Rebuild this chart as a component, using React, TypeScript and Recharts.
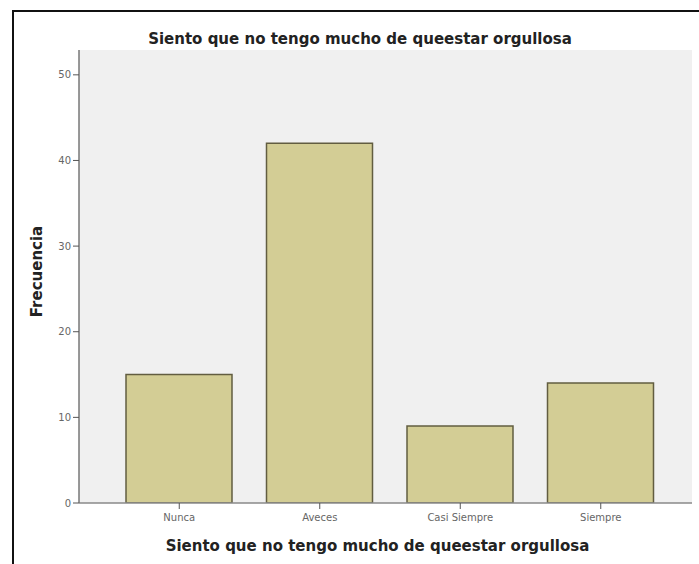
import { BarChart, Bar, XAxis, YAxis, CartesianGrid } from 'recharts'

const categories = ['Nunca', 'Aveces', 'Casi Siempre', 'Siempre']
const frecuencias = [15, 42, 9, 14]
const yTicks = [0, 10, 20, 30, 40, 50]
const title = 'Siento que no tengo mucho de queestar orgullosa'

const data = categories.map((name, i) => ({ name, value: frecuencias[i] }))

const font = '"DejaVu Sans", Verdana, sans-serif'

export default function App() {
  return (
    <div style={{ position: 'relative', width: 699, height: 564, background: '#fff', overflow: 'hidden' }}>
      <style>{`body{margin:0}`}</style>
      {/* outer frame, only top and left edges are in view */}
      <div
        style={{
          position: 'absolute',
          left: 12,
          top: 10,
          right: -10,
          bottom: -10,
          borderTop: '2px solid #111',
          borderLeft: '2px solid #111',
        }}
      />
      <div
        style={{
          position: 'absolute',
          left: 60,
          width: 600,
          top: 31,
          textAlign: 'center',
          fontFamily: font,
          fontWeight: 'bold',
          fontSize: 15,
          lineHeight: '17px',
          color: '#222',
        }}
      >
        {title}
      </div>
      <BarChart
        width={699}
        height={564}
        data={data}
        margin={{ top: 50, right: 7, bottom: 0, left: 0 }}
        style={{ position: 'absolute', left: 0, top: 0 }}
      >
        <CartesianGrid fill="#f0f0f0" horizontal={false} vertical={false} />
        <XAxis
          xAxisId="top"
          orientation="top"
          dataKey="name"
          tick={false}
          tickLine={false}
          height={0}
          axisLine={{ stroke: '#8a8a8a', strokeWidth: 1.5 }}
        />
        <XAxis
          dataKey="name"
          padding={{ left: 30, right: 21 }}
          tickSize={6}
          tickMargin={5}
          tickLine={{ stroke: '#555' }}
          axisLine={{ stroke: '#8a8a8a', strokeWidth: 1.5 }}
          tick={{ fontSize: 10, fill: '#666', fontFamily: font }}
          height={61}
          label={{
            value: title,
            position: 'insideBottom',
            offset: 13,
            dx: -8,
            style: { fontSize: 15, fontWeight: 'bold', fill: '#222', fontFamily: font },
          }}
        />
        <YAxis
          width={79}
          domain={[0, 52.9]}
          ticks={yTicks}
          allowDataOverflow
          tickSize={6}
          tickMargin={2}
          tickLine={{ stroke: '#555' }}
          axisLine={{ stroke: '#777', strokeWidth: 1.5 }}
          tick={{ fontSize: 10, fill: '#666', fontFamily: font }}
          label={{
            value: 'Frecuencia',
            angle: -90,
            position: 'insideLeft',
            offset: 37,
            dy: -5,
            style: { textAnchor: 'middle', fontSize: 15, fontWeight: 'bold', fill: '#222', fontFamily: font },
          }}
        />
        <YAxis
          yAxisId="right"
          orientation="right"
          width={0}
          tick={false}
          tickLine={false}
          axisLine={{ stroke: '#dcdcdc' }}
        />
        <Bar
          dataKey="value"
          fill="#d3cd95"
          stroke="#625d40"
          strokeWidth={1.5}
          barSize={106}
          isAnimationActive={false}
        />
      </BarChart>
    </div>
  )
}
